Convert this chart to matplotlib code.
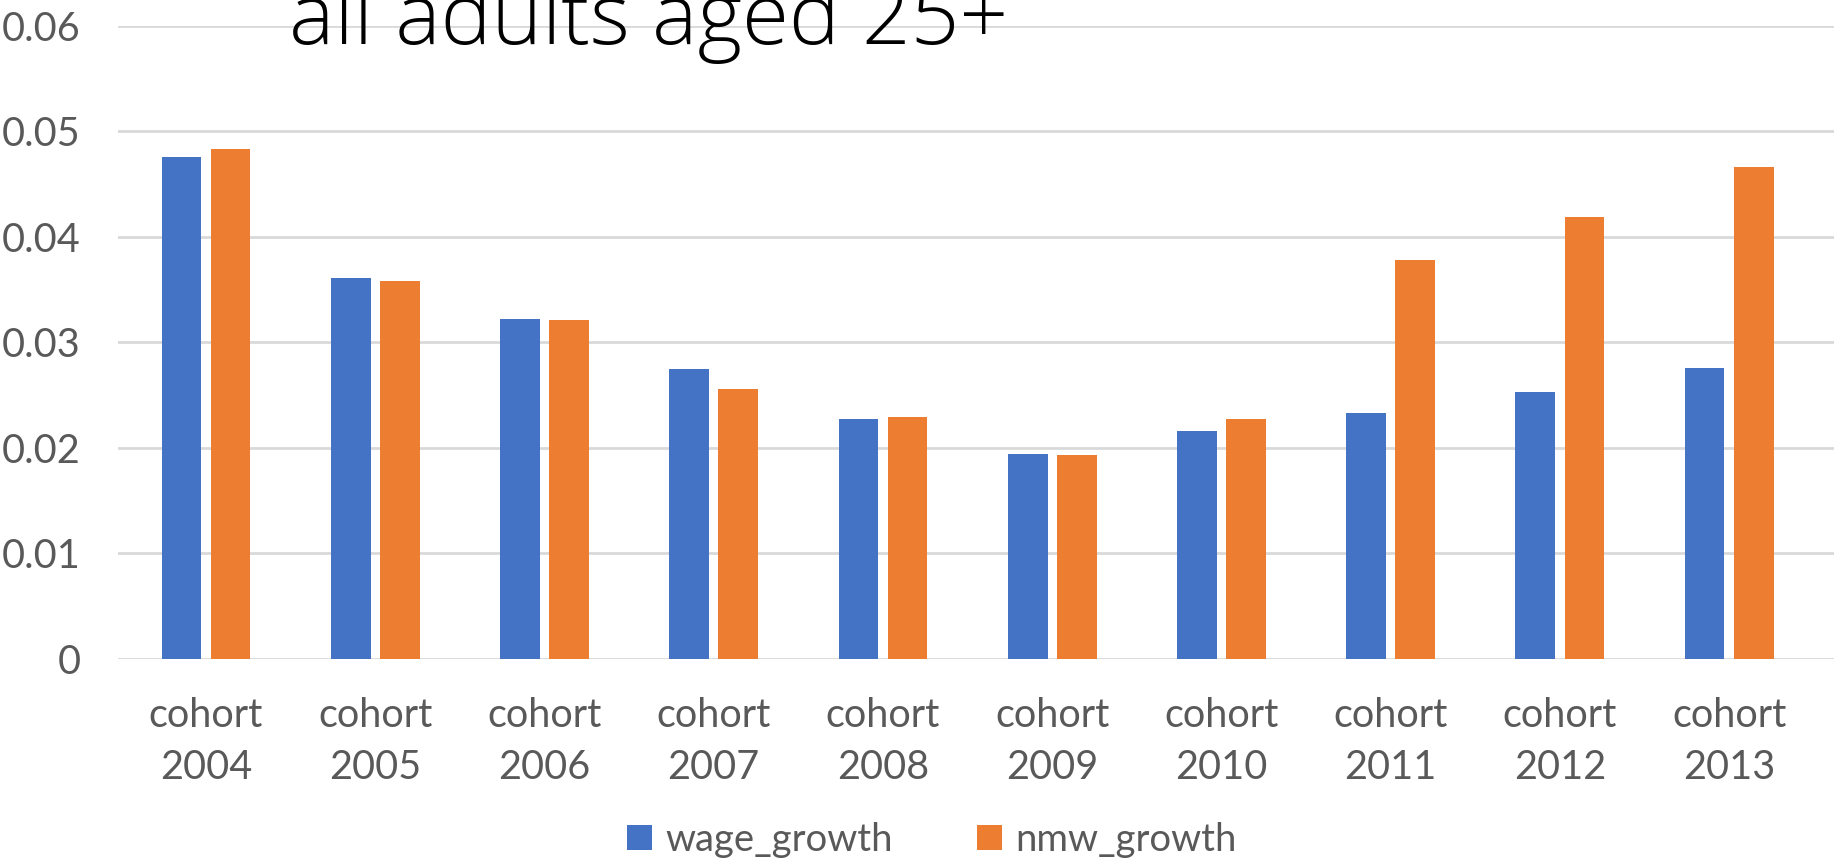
import numpy as np
import matplotlib
matplotlib.use("Agg")
import matplotlib.pyplot as plt

# cohort averages, all adults aged 25+
cohorts = ["2004", "2005", "2006", "2007", "2008",
           "2009", "2010", "2011", "2012", "2013"]
wage_growth = [0.04755, 0.03604, 0.03222, 0.02748, 0.02272,
               0.01940, 0.02161, 0.02330, 0.02526, 0.02758]
nmw_growth = [0.04832, 0.03576, 0.03208, 0.02560, 0.02294,
              0.01926, 0.02270, 0.03775, 0.04182, 0.04663]
y_ticks = [0, 0.01, 0.02, 0.03, 0.04, 0.05, 0.06]
y_tick_labels = ["0", "0.01", "0.02", "0.03", "0.04", "0.05", "0.06"]

BLUE = "#4472C4"
ORANGE = "#ED7D31"
GREY_TEXT = "#595959"
GRID = "#D9D9D9"

plt.rcParams["font.family"] = ["Lato", "DejaVu Sans"]

fig = plt.figure(figsize=(18.34, 8.65), dpi=100)
ax = fig.add_axes([118 / 1834, 1 - 658.5 / 865, 1 - 118 / 1834, (658.5 - 25.7) / 865])

x = np.arange(len(cohorts))
w = 0.235
off = 0.145
ax.bar(x - off, wage_growth, w, color=BLUE, label="wage_growth", zorder=3)
ax.bar(x + off, nmw_growth, w, color=ORANGE, label="nmw_growth", zorder=3)

ax.set_xlim(-0.52, 9.62)
ax.set_ylim(0, 0.06)
ax.set_yticks(y_ticks)
ax.set_yticklabels(y_tick_labels)
ax.set_xticks(x)
ax.set_xticklabels(["cohort\n" + c for c in cohorts], linespacing=1.5)

ax.yaxis.grid(True, color=GRID, linewidth=2, zorder=0)
ax.set_axisbelow(True)
for s in ax.spines.values():
    s.set_visible(False)
ax.tick_params(axis="both", length=0, labelsize=28.5, labelcolor=GREY_TEXT)
ax.tick_params(axis="y", pad=27)
ax.tick_params(axis="x", pad=28)

# title sits partly above the top edge
fig.text(247 * 1.1696 / 1834, 1 - 44 / 865, "all adults aged 25+",
         family=["Open Sans", "DejaVu Sans"], fontsize=61.5, fontweight=300,
         color="black", va="baseline", ha="left")

ax.legend(loc="center", bbox_to_anchor=(0.508, 0.029), bbox_transform=fig.transFigure,
          ncol=2, frameon=False, fontsize=27.5, labelcolor=GREY_TEXT,
          handlelength=0.65, handleheight=0.65, handletextpad=0.35, columnspacing=2.2)

fig.savefig("out.png", dpi=100)
